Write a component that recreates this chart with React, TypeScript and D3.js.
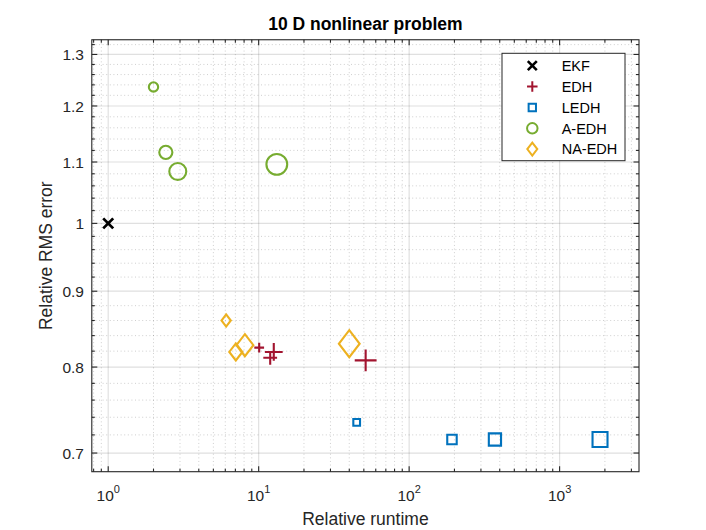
import React from "react";
import * as d3 from "d3";

// ---- data ----
const ekfX = [1.0];
const ekfY = [1.0];

const edhX = [10.08, 11.93, 12.6, 51.4];
const edhY = [0.8245, 0.8116, 0.819, 0.8083];

const ledhX = [44.8, 192.6, 371.7, 1856];
const ledhY = [0.7341, 0.7149, 0.7149, 0.7149];

const aedhX = [2.0, 2.415, 2.9, 13.2];
const aedhY = [1.236, 1.1166, 1.084, 1.096];

const naedhX = [6.08, 7.05, 8.1, 40.0];
const naedhY = [0.86, 0.819, 0.8276, 0.8295];

const sizeLevels = [1, 2, 3, 4];

const legendLabels = ["EKF", "EDH", "LEDH", "A-EDH", "NA-EDH"];
const xMajorTicks = [1, 10, 100, 1000];
const xTickExponents = ["0", "1", "2", "3"];
const yMajorTicks = [0.7, 0.8, 0.9, 1.0, 1.1, 1.2, 1.3];
const yTickLabels = ["0.7", "0.8", "0.9", "1", "1.1", "1.2", "1.3"];

const titleText = "10 D nonlinear problem";
const xLabelText = "Relative runtime";
const yLabelText = "Relative RMS error";

// ---- layout ----
const W = 706;
const H = 530;
const L = 91.8;
const R = 639;
const T = 39.75;
const B = 471.7;
const FONT = "'Liberation Sans', Arial, Helvetica, sans-serif";
const AX = "#262626";

const COLORS = {
  EKF: "#000000",
  EDH: "#A2142F",
  LEDH: "#0072BD",
  AEDH: "#77AC30",
  NAEDH: "#EDB120",
};

type Kind = "x" | "plus" | "square" | "circle" | "diamond";

function markerPath(kind: Kind, m: number): string {
  const p = d3.path();
  if (kind === "circle") {
    const r = m / 2;
    p.moveTo(r, 0);
    p.arc(0, 0, r, 0, Math.PI * 2);
    p.closePath();
  } else if (kind === "square") {
    const h = (m * 0.72) / 2;
    p.rect(-h, -h, 2 * h, 2 * h);
  } else if (kind === "diamond") {
    const w = m / 2;
    const h = (m * 1.3) / 2;
    p.moveTo(0, -h);
    p.lineTo(w, 0);
    p.lineTo(0, h);
    p.lineTo(-w, 0);
    p.closePath();
  } else if (kind === "plus") {
    const h = (m * 1.05) / 2;
    p.moveTo(-h, 0);
    p.lineTo(h, 0);
    p.moveTo(0, -h);
    p.lineTo(0, h);
  } else {
    const h = m / 2;
    p.moveTo(-h, -h);
    p.lineTo(h, h);
    p.moveTo(-h, h);
    p.lineTo(h, -h);
  }
  return p.toString();
}

export default function App() {
  const x = d3.scaleLog().domain([0.778, 3370]).range([L, R]);
  const y = d3.scaleLog().domain([0.68, 1.33]).range([B, T]);
  const size = d3.scaleLinear().domain([1, 4]).range([9.3, 20.8]);

  const xMinor: number[] = [];
  [0.1, 1, 10, 100, 1000].forEach((d) => {
    for (let k = 2; k <= 9; k++) {
      const v = d * k;
      if (v > 0.778 && v < 3370) xMinor.push(v);
    }
  });
  const yMinor: number[] = [];
  for (let i = 34; i <= 66; i++) {
    const v = i / 50;
    if (i % 5 === 0) continue;
    if (v > 0.6801 && v < 1.33) yMinor.push(v);
  }

  const series = [
    { name: "EDH", xs: edhX, ys: edhY, kind: "plus" as Kind, color: COLORS.EDH },
    { name: "LEDH", xs: ledhX, ys: ledhY, kind: "square" as Kind, color: COLORS.LEDH },
    { name: "AEDH", xs: aedhX, ys: aedhY, kind: "circle" as Kind, color: COLORS.AEDH },
    { name: "NAEDH", xs: naedhX, ys: naedhY, kind: "diamond" as Kind, color: COLORS.NAEDH },
  ];

  const legendItems: { kind: Kind; color: string; m: number; sw: number }[] = [
    { kind: "x", color: COLORS.EKF, m: 9, sw: 2.6 },
    { kind: "plus", color: COLORS.EDH, m: 10, sw: 2 },
    { kind: "square", color: COLORS.LEDH, m: 10.2, sw: 2 },
    { kind: "circle", color: COLORS.AEDH, m: 10.5, sw: 2 },
    { kind: "diamond", color: COLORS.NAEDH, m: 10, sw: 2 },
  ];

  const legX = 502;
  const legY = 53.3;
  const legW = 123;
  const legH = 107.4;
  const rowY = [65.7, 86.6, 107.5, 128.3, 149.1];

  return (
    <svg
      width={W}
      height={H}
      style={{ position: "absolute", left: 0, top: 0, background: "#fff" }}
      fontFamily={FONT}
    >
      <rect x={0} y={0} width={W} height={H} fill="#fff" />
      <rect x={L} y={T} width={R - L} height={B - T} fill="#fff" />
      {/* minor grid */}
      <g stroke={AX} strokeOpacity={0.28} strokeWidth={0.8} strokeDasharray="1 2.6">
        {xMinor.map((v) => (
          <line key={"xm" + v} x1={x(v)} x2={x(v)} y1={T} y2={B} />
        ))}
        {yMinor.map((v) => (
          <line key={"ym" + v} x1={L} x2={R} y1={y(v)} y2={y(v)} />
        ))}
      </g>
      {/* major grid */}
      <g stroke={AX} strokeOpacity={0.14} strokeWidth={1.2}>
        {xMajorTicks.map((v) => (
          <line key={"xg" + v} x1={x(v)} x2={x(v)} y1={T} y2={B} />
        ))}
        {yMajorTicks.map((v) => (
          <line key={"yg" + v} x1={L} x2={R} y1={y(v)} y2={y(v)} />
        ))}
      </g>

      {/* data */}
      <path
        d={markerPath("x", 10)}
        transform={`translate(${x(ekfX[0])},${y(ekfY[0])})`}
        fill="none"
        stroke={COLORS.EKF}
        strokeWidth={2.8}
      />
      {series.map((s) =>
        s.xs.map((xv, i) => (
          <path
            key={s.name + i}
            d={markerPath(s.kind, size(sizeLevels[i]))}
            transform={`translate(${x(xv)},${y(s.ys[i])})`}
            fill="none"
            stroke={s.color}
            strokeWidth={2.1}
          />
        ))
      )}

      {/* axes box and ticks */}
      <g stroke={AX} strokeWidth={1.1} fill="none">
        <rect x={L} y={T} width={R - L} height={B - T} />
        {xMajorTicks.map((v) => (
          <g key={"xt" + v}>
            <line x1={x(v)} x2={x(v)} y1={B} y2={B - 5.5} />
            <line x1={x(v)} x2={x(v)} y1={T} y2={T + 5.5} />
          </g>
        ))}
        {xMinor.map((v) => (
          <g key={"xmt" + v}>
            <line x1={x(v)} x2={x(v)} y1={B} y2={B - 3} />
            <line x1={x(v)} x2={x(v)} y1={T} y2={T + 3} />
          </g>
        ))}
        {yMajorTicks.map((v) => (
          <g key={"yt" + v}>
            <line x1={L} x2={L + 5.5} y1={y(v)} y2={y(v)} />
            <line x1={R} x2={R - 5.5} y1={y(v)} y2={y(v)} />
          </g>
        ))}
        {yMinor.map((v) => (
          <g key={"ymt" + v}>
            <line x1={L} x2={L + 3} y1={y(v)} y2={y(v)} />
            <line x1={R} x2={R - 3} y1={y(v)} y2={y(v)} />
          </g>
        ))}
      </g>

      {/* tick labels */}
      <g fill={AX} fontSize={15.5}>
        {xMajorTicks.map((v, i) => (
          <text key={"xl" + v} x={x(v)} y={501} textAnchor="middle">
            10
            <tspan fontSize={11} dy={-8}>
              {xTickExponents[i]}
            </tspan>
          </text>
        ))}
        {yMajorTicks.map((v, i) => (
          <text key={"yl" + v} x={84} y={y(v)} dy="0.36em" textAnchor="end">
            {yTickLabels[i]}
          </text>
        ))}
      </g>

      {/* labels */}
      <text x={(L + R) / 2} y={525} textAnchor="middle" fontSize={17.5} fill={AX}>
        {xLabelText}
      </text>
      <text
        transform={`translate(51.5,${(T + B) / 2}) rotate(-90)`}
        textAnchor="middle"
        fontSize={17.5}
        fill={AX}
      >
        {yLabelText}
      </text>
      <text
        x={(L + R) / 2}
        y={30}
        textAnchor="middle"
        fontSize={17.5}
        fontWeight="bold"
        fill="#000"
      >
        {titleText}
      </text>

      {/* legend */}
      <rect x={legX} y={legY} width={legW} height={legH} fill="#fff" stroke={AX} strokeWidth={1} />
      {legendItems.map((it, i) => (
        <g key={"lg" + i}>
          <path
            d={markerPath(it.kind, it.m)}
            transform={`translate(532.3,${rowY[i]})`}
            fill="none"
            stroke={it.color}
            strokeWidth={it.sw}
          />
          <text x={561.7} y={rowY[i]} dy="0.36em" fontSize={14.5} fill="#000">
            {legendLabels[i]}
          </text>
        </g>
      ))}
    </svg>
  );
}
